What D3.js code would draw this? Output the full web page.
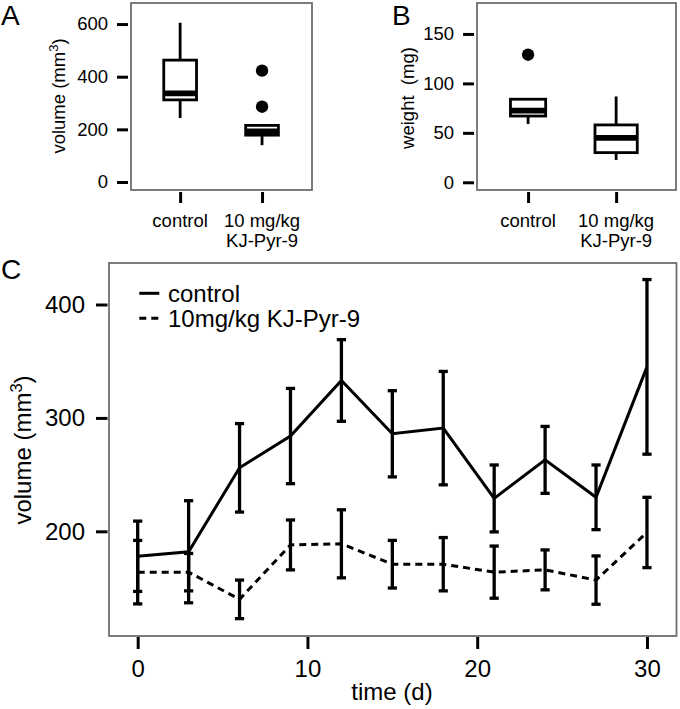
<!DOCTYPE html>
<html>
<head>
<meta charset="utf-8">
<script src="https://cdn.jsdelivr.net/npm/d3@7"></script>
<style>
  html, body { margin: 0; padding: 0; background: #fff; }
  svg { display: block; font-family: "Liberation Sans", Arial, Helvetica, sans-serif; }
  text { fill: #000; }
</style>
</head>
<body>
<svg id="chart" width="680" height="709"></svg>
<script>
// ---------- Data ----------
const groupLabels = [["control"], ["10 mg/kg", "KJ-Pyr-9"]];
const groupIndex = [1, 2];

// Panel A: tumour volume (mm^3) box plots
const volumeMin = [243, 140];
const volumeQ1 = [312, 178];
const volumeMedian = [337, 192];
const volumeQ3 = [463, 215];
const volumeMax = [605, 215];
const volumeOutliers = [[], [286, 423]];
const volumeTicks = [0, 200, 400, 600];

// Panel B: tumour weight (mg) box plots
const weightMin = [59, 22.6];
const weightQ1 = [67, 30];
const weightMedian = [72.5, 45];
const weightQ3 = [84, 58];
const weightMax = [84, 86.8];
const weightOutliers = [[129], []];
const weightTicks = [0, 50, 100, 150];

// Panel C: volume over time, mean +/- SE
const days = [0, 3, 6, 9, 12, 15, 18, 21, 24, 27, 30];
const controlMean = [178, 182, 256, 284, 333, 286, 291, 229, 263, 230, 345];
const controlSE = [31, 45, 39, 42, 36, 38, 50, 29.5, 29.5, 28.5, 77];
const treatMean = [164, 164, 140, 188, 189, 171, 171, 164, 166, 157, 199];
const treatSE = [28, 16.5, 17, 22, 30, 21, 23.5, 23, 17.6, 21.3, 31];
const timeTicks = [0, 10, 20, 30];
const timeVolumeTicks = [200, 300, 400];
const seriesNames = ["control", "10mg/kg KJ-Pyr-9"];

// ---------- Drawing ----------
const svg = d3.select("#chart");
const FRAME = "#6e6e6e";

function frame(x0, y0, x1, y1) {
  svg.append("rect").attr("x", x0).attr("y", y0)
    .attr("width", x1 - x0).attr("height", y1 - y0)
    .attr("fill", "none").attr("stroke", FRAME).attr("stroke-width", 1.8);
}

function styleAxis(g, fontSize) {
  g.select(".domain").remove();
  g.selectAll(".tick line").attr("stroke", "#000").attr("stroke-width", 3);
  g.selectAll(".tick text").attr("font-size", fontSize).attr("fill", "#000")
    .attr("font-family", "Liberation Sans, Arial, Helvetica, sans-serif");
}

function boxPanel(opts) {
  const { x0, x1, y0, y1, xDomain, yDomain, ticks, mins, q1s, meds, q3s, maxs, outs, widths } = opts;
  const x = d3.scaleLinear().domain(xDomain).range([x0, x1]);
  const y = d3.scaleLinear().domain(yDomain).range([y1, y0]);
  const fs = 18.5;

  const ya = svg.append("g").attr("transform", `translate(${x0 - 3},0)`)
    .call(d3.axisLeft(y).tickValues(ticks).tickSize(11).tickPadding(9).tickFormat(d3.format("d")));
  styleAxis(ya, fs);

  const xa = svg.append("g").attr("transform", `translate(0,${y1 + 2})`)
    .call(d3.axisBottom(x).tickValues(groupIndex).tickSize(11).tickFormat(""));
  styleAxis(xa, fs);

  groupIndex.forEach((gi, i) => {
    const t = svg.append("text").attr("text-anchor", "middle").attr("font-size", fs)
      .attr("x", x(gi)).attr("y", 226.7);
    groupLabels[i].forEach((line, k) => {
      t.append("tspan").attr("x", x(gi)).attr("dy", k === 0 ? 0 : 20).text(line);
    });
  });

  const g = svg.append("g");
  groupIndex.forEach((gi, i) => {
    const cx = x(gi);
    const hw = (x(gi + widths[i] / 2) - x(gi - widths[i] / 2)) / 2;
    g.append("line").attr("x1", cx).attr("x2", cx).attr("y1", y(q3s[i])).attr("y2", y(maxs[i]))
      .attr("stroke", "#000").attr("stroke-width", 2.8);
    g.append("line").attr("x1", cx).attr("x2", cx).attr("y1", y(q1s[i])).attr("y2", y(mins[i]))
      .attr("stroke", "#000").attr("stroke-width", 2.8);
    g.append("rect").attr("x", cx - hw).attr("width", 2 * hw)
      .attr("y", y(q3s[i])).attr("height", y(q1s[i]) - y(q3s[i]))
      .attr("fill", "#fff").attr("stroke", "#000").attr("stroke-width", 2.8);
    g.append("line").attr("x1", cx - hw).attr("x2", cx + hw)
      .attr("y1", y(meds[i])).attr("y2", y(meds[i]))
      .attr("stroke", "#000").attr("stroke-width", 5.8);
    outs[i].forEach(v => {
      g.append("circle").attr("cx", cx).attr("cy", y(v)).attr("r", 6.2).attr("fill", "#000");
    });
  });

  frame(x0, y0, x1, y1);
}

boxPanel({
  x0: 131, x1: 312, y0: 3, y1: 190,
  xDomain: [0.4, 2.61], yDomain: [-30.4, 680],
  ticks: volumeTicks, mins: volumeMin, q1s: volumeQ1, meds: volumeMedian,
  q3s: volumeQ3, maxs: volumeMax, outs: volumeOutliers, widths: [0.4, 0.4]
});
boxPanel({
  x0: 477, x1: 676, y0: 3, y1: 190,
  xDomain: [0.42, 2.68], yDomain: [-7.8, 181.3],
  ticks: weightTicks, mins: weightMin, q1s: weightQ1, meds: weightMedian,
  q3s: weightQ3, maxs: weightMax, outs: weightOutliers, widths: [0.4, 0.48]
});

const yLabA = svg.append("text").attr("font-size", 18.5).attr("text-anchor", "middle")
  .attr("transform", "translate(65,96) rotate(-90)");
yLabA.append("tspan").text("volume (mm");
yLabA.append("tspan").attr("font-size", 13).attr("dy", -7).text("3");
yLabA.append("tspan").attr("dy", 7).text(")");

svg.append("text").attr("font-size", 18.5).attr("text-anchor", "middle")
  .attr("transform", "translate(414,98) rotate(-90)")
  .style("white-space", "pre").text("weight  (mg)");

svg.append("text").attr("x", 1).attr("y", 25).attr("font-size", 28).text("A");
svg.append("text").attr("x", 392).attr("y", 25).attr("font-size", 28).text("B");
svg.append("text").attr("x", 1).attr("y", 279).attr("font-size", 28).text("C");

// ---------- Panel C ----------
const cx0 = 109, cx1 = 676.5, cy0 = 263, cy1 = 636;
const xC = d3.scaleLinear().domain([-1.69, 31.74]).range([cx0, cx1]);
const yC = d3.scaleLinear().domain([107.7, 436.6]).range([cy1, cy0]);
const fsC = 24;

const yaC = svg.append("g").attr("transform", `translate(${cx0 - 1.5},0)`)
  .call(d3.axisLeft(yC).tickValues(timeVolumeTicks).tickSize(11.5).tickPadding(11).tickFormat(d3.format("d")));
styleAxis(yaC, fsC);
const xaC = svg.append("g").attr("transform", `translate(0,${cy1 + 1})`)
  .call(d3.axisBottom(xC).tickValues(timeTicks).tickSize(12).tickPadding(10.5).tickFormat(d3.format("d")));
styleAxis(xaC, fsC);

svg.append("text").attr("x", 392).attr("y", 700).attr("font-size", fsC)
  .attr("text-anchor", "middle").text("time (d)");
const yLabC = svg.append("text").attr("font-size", fsC).attr("text-anchor", "middle")
  .attr("transform", "translate(31,450) rotate(-90)");
yLabC.append("tspan").text("volume (mm");
yLabC.append("tspan").attr("font-size", 16.5).attr("dy", -9).text("3");
yLabC.append("tspan").attr("dy", 9).text(")");

const seriesList = [
  { mean: controlMean, se: controlSE, dash: null },
  { mean: treatMean, se: treatSE, dash: "7,5" }
];
const line = d3.line().x((d, i) => xC(days[i])).y(d => yC(d));

seriesList.forEach(s => {
  svg.append("path").datum(s.mean).attr("d", line)
    .attr("fill", "none").attr("stroke", "#000").attr("stroke-width", 3)
    .attr("stroke-linejoin", "miter")
    .attr("stroke-dasharray", s.dash);
});

seriesList.forEach(s => {
  const eb = svg.append("g").attr("stroke", "#000").attr("stroke-width", 3.3);
  days.forEach((d, i) => {
    const px = xC(d);
    const lo = yC(s.mean[i] - s.se[i]), hi = yC(s.mean[i] + s.se[i]);
    eb.append("line").attr("x1", px).attr("x2", px).attr("y1", lo).attr("y2", hi);
    eb.append("line").attr("x1", px - 4.6).attr("x2", px + 4.6).attr("y1", lo).attr("y2", lo);
    eb.append("line").attr("x1", px - 4.6).attr("x2", px + 4.6).attr("y1", hi).attr("y2", hi);
  });
});

seriesNames.forEach((name, i) => {
  const ly = 293.3 + i * 25;
  svg.append("line").attr("x1", 139.3).attr("x2", 159.3).attr("y1", ly).attr("y2", ly)
    .attr("stroke", "#000").attr("stroke-width", 3)
    .attr("stroke-dasharray", seriesList[i].dash);
  svg.append("text").attr("x", 168).attr("y", ly + 8.4).attr("font-size", fsC).text(name);
});

frame(cx0, cy0, cx1, cy1);
</script>
</body>
</html>
